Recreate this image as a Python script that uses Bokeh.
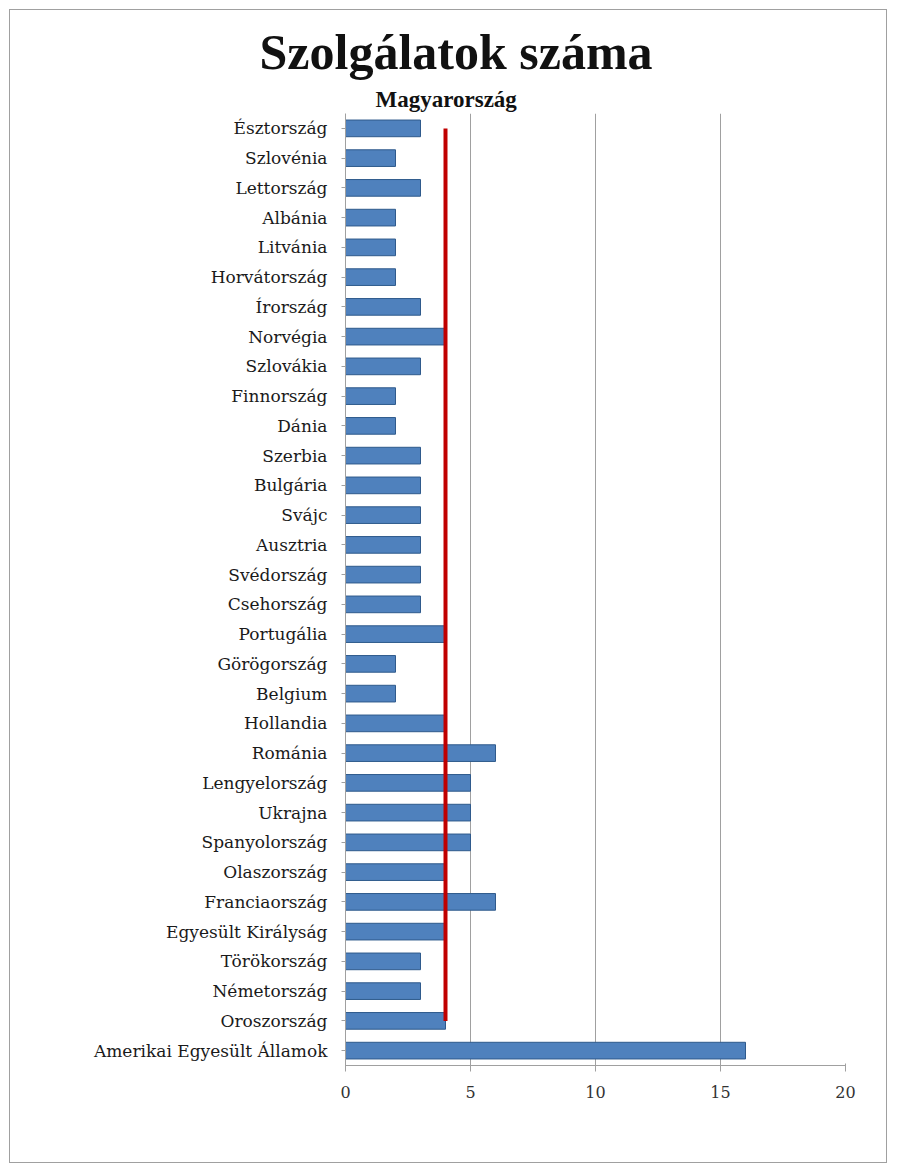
from bokeh.plotting import figure
from bokeh.models import FactorRange, Range1d, Title, FixedTicker
from bokeh.embed import file_html
from bokeh.resources import INLINE

countries = ["Észtország", "Szlovénia", "Lettország", "Albánia", "Litvánia",
             "Horvátország", "Írország", "Norvégia", "Szlovákia", "Finnország",
             "Dánia", "Szerbia", "Bulgária", "Svájc", "Ausztria", "Svédország",
             "Csehország", "Portugália", "Görögország", "Belgium", "Hollandia",
             "Románia", "Lengyelország", "Ukrajna", "Spanyolország", "Olaszország",
             "Franciaország", "Egyesült Királyság", "Törökország", "Németország",
             "Oroszország", "Amerikai Egyesült Államok"]
services = [3, 2, 3, 2, 2, 2, 3, 4, 3, 2, 2, 3, 3, 3, 3, 3, 3, 4, 2, 2, 4,
            6, 5, 5, 5, 4, 6, 4, 3, 3, 4, 16]
hungary_value = 4
hungary_label = "Magyarország"
title_text = "Szolgálatok száma"
x_ticks = [0, 5, 10, 15, 20]

FONT = "Liberation Serif"
LFONT = "DejaVu Serif"

W, H = 878, 1154
p = figure(width=W, height=H, output_backend="svg", toolbar_location=None,
           y_range=FactorRange(factors=list(reversed(countries)), range_padding=0),
           x_range=Range1d(0, 20))
p.min_border_left = 335
p.min_border_right = 43
p.min_border_top = 103
p.min_border_bottom = 99
p.outline_line_color = None
p.background_fill_color = "white"
p.border_fill_color = "white"
p.styles = {"border": "1px solid #a0a0a0", "margin": "9px"}

p.hbar(y=countries, right=services, left=0, height=0.56,
       fill_color="#4F81BD", line_color="#2F5A8C", line_width=1)

hu_y = countries[:-1]
p.line(x=[hungary_value] * len(hu_y), y=hu_y, line_color="#C00000", line_width=4)

p.xaxis.ticker = FixedTicker(ticks=x_ticks)
p.xaxis.major_label_text_font = LFONT
p.xaxis.major_label_text_font_size = "16px"
p.xaxis.major_label_text_color = "#333333"
p.xaxis.axis_line_color = "#a0a0a0"
p.xaxis.major_tick_line_color = "#a0a0a0"
p.xaxis.minor_tick_line_color = None
p.xaxis.major_label_standoff = 14

p.yaxis.major_label_text_font = LFONT
p.yaxis.major_label_text_font_size = "17px"
p.yaxis.major_label_text_color = "#1a1a1a"
p.yaxis.axis_line_color = "#a0a0a0"
p.yaxis.major_tick_line_color = "#a0a0a0"
p.yaxis.major_tick_out = 4
p.yaxis.major_tick_in = 0
p.yaxis.major_label_standoff = 14

p.xgrid.grid_line_color = "#a0a0a0"
p.xgrid.grid_line_width = 1
p.ygrid.grid_line_color = None

p.title.text = title_text
p.title.text_font = FONT
p.title.text_font_size = "50px"
p.title.text_font_style = "bold"
p.title.text_color = "#111111"
p.title.align = "left"
p.title.offset = -86
p.title.standoff = 8

sub = Title(text=hungary_label, text_font=FONT, text_font_size="23px",
            text_font_style="bold", text_color="#111111", align="left",
            offset=30, standoff=3)
p.add_layout(sub, "above")

open("out.html", "w").write(file_html(p, INLINE))
